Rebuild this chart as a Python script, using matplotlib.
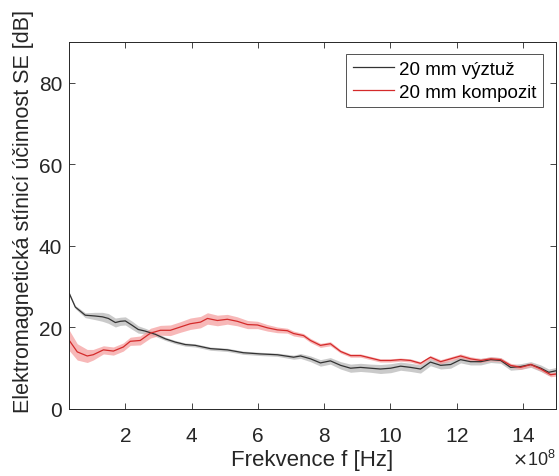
import numpy as np
import matplotlib
matplotlib.use("Agg")
import matplotlib.pyplot as plt
from matplotlib.ticker import ScalarFormatter

plt.rcParams['font.family'] = ['Liberation Sans', 'DejaVu Sans']

# Frequency in units of 1e8 Hz, shielding effectiveness in dB, band half-width in dB
freq_vyztuz = [0.31, 0.49, 0.79, 1.09, 1.31, 1.49, 1.70, 1.85, 2.00, 2.21, 2.39, 2.60,
               2.91, 3.21, 3.51, 3.81, 4.11, 4.57, 5.08, 5.56, 6.08, 6.59, 7.08, 7.29,
               7.59, 7.89, 8.19, 8.50, 8.80, 9.10, 9.40, 9.70, 10.01, 10.31, 10.61,
               10.91, 11.21, 11.52, 11.82, 12.12, 12.42, 12.73, 13.03, 13.33, 13.63,
               13.93, 14.24, 14.54, 14.78, 15.02]
se_vyztuz = [28.3, 25.0, 23.0, 22.8, 22.6, 22.2, 21.2, 21.5, 21.6, 20.5, 19.5, 19.1,
             18.3, 17.2, 16.4, 15.8, 15.6, 14.8, 14.5, 13.8, 13.5, 13.3, 12.7, 13.0,
             12.3, 11.3, 11.8, 10.7, 10.0, 10.2, 10.0, 9.8, 10.0, 10.5, 10.2,
             9.8, 11.5, 10.7, 10.9, 12.1, 11.6, 11.6, 12.1, 11.9, 10.2,
             10.4, 10.9, 10.0, 9.0, 9.4]
band_vyztuz = [0.3, 0.4, 0.6, 0.9, 1.1, 1.2, 1.1, 1.0, 1.0, 1.0, 0.9, 0.7,
               0.5, 0.4, 0.4, 0.4, 0.4, 0.4, 0.4, 0.4, 0.4, 0.4, 0.5, 0.6,
               0.7, 0.8, 0.8, 0.9, 1.0, 1.0, 1.0, 1.1, 1.1, 1.0, 1.0,
               1.0, 0.9, 0.9, 0.9, 0.8, 0.8, 0.8, 0.7, 0.7, 0.7,
               0.7, 0.7, 0.8, 0.8, 0.8]

freq_kompozit = [0.31, 0.55, 0.85, 1.03, 1.34, 1.64, 1.94, 2.15, 2.45, 2.76, 3.06, 3.36,
                 3.66, 3.96, 4.27, 4.48, 4.78, 5.08, 5.38, 5.69, 5.99, 6.29, 6.59, 6.89,
                 7.08, 7.38, 7.59, 7.89, 8.19, 8.50, 8.80, 9.10, 9.40, 9.70, 10.01,
                 10.31, 10.61, 10.91, 11.21, 11.52, 11.82, 12.12, 12.42, 12.73, 13.03,
                 13.33, 13.63, 13.93, 14.24, 14.54, 14.84, 15.02]
se_kompozit = [16.8, 14.0, 13.0, 13.3, 14.5, 14.2, 15.2, 16.6, 16.8, 18.6, 19.3, 19.3,
               20.1, 20.9, 21.3, 22.2, 21.7, 22.0, 21.5, 20.7, 20.6, 19.9, 19.4, 19.2,
               18.5, 18.0, 16.8, 15.6, 16.0, 14.1, 13.1, 13.1, 12.5, 11.9, 11.9,
               12.1, 11.9, 11.2, 12.7, 11.6, 12.3, 13.0, 12.3, 11.9, 12.3,
               12.1, 10.7, 10.2, 10.9, 9.8, 8.4, 8.6]
band_kompozit = [2.5, 2.0, 1.6, 1.3, 1.0, 1.0, 1.0, 1.0, 1.1, 1.2, 1.2, 1.3,
                 1.3, 1.4, 1.4, 1.4, 1.3, 1.2, 1.1, 1.0, 0.9, 0.8, 0.7, 0.6,
                 0.6, 0.5, 0.5, 0.5, 0.5, 0.4, 0.4, 0.4, 0.4, 0.4, 0.4,
                 0.4, 0.4, 0.4, 0.4, 0.5, 0.5, 0.5, 0.5, 0.5, 0.5,
                 0.5, 0.5, 0.5, 0.5, 0.5, 0.5, 0.5]

labels = ['20 mm výztuž', '20 mm kompozit']
line_colors = ['#333333', '#d42a2a']
band_colors = ['#b4b4b4', '#f59a9a']

fig = plt.figure(figsize=(5.59, 4.77), dpi=100)
ax = fig.add_axes([0.1234, 0.1405, 0.8712, 0.7694])

series = [(freq_vyztuz, se_vyztuz, band_vyztuz), (freq_kompozit, se_kompozit, band_kompozit)]
for (f, se, bw), lab, lc, bc in zip(series, labels, line_colors, band_colors):
    f = np.asarray(f) * 1e8
    se = np.asarray(se)
    bw = np.asarray(bw)
    ax.fill_between(f, se - bw, se + bw, color=bc, alpha=0.7, linewidth=0)
    ax.plot(f, se, color=lc, linewidth=0.9, label=lab)

ax.set_xlim(0.3e8, 15e8)
ax.set_ylim(0, 90)
ax.set_xticks(np.arange(2, 15, 2) * 1e8)
ax.set_yticks([0, 20, 40, 60, 80])

fmt = ScalarFormatter(useMathText=True)
fmt.set_powerlimits((8, 8))
ax.xaxis.set_major_formatter(fmt)

ax.tick_params(direction='in', length=4, width=0.6, colors='#262626',
               labelsize=15, top=True, right=True)
ax.tick_params(axis='x', pad=12)
ax.tick_params(axis='y', pad=5)
for sp in ax.spines.values():
    sp.set_color('#262626')
    sp.set_linewidth(0.7)

ax.set_xlabel('Frekvence f [Hz]', fontsize=16, color='#262626', labelpad=3)
ax.set_ylabel('Elektromagnetická stínicí účinnost SE [dB]', fontsize=15.5,
              color='#262626')
ax.yaxis.set_label_coords(-0.072, 0.54)

# Exponent of the x axis, placed at the lower right below the tick labels
fig.canvas.draw()
ax.xaxis.get_offset_text().set_visible(False)
ax.text(1.0, -0.11, fmt.get_offset(), transform=ax.transAxes, ha='right',
        va='top', fontsize=13, color='#262626')

leg = ax.legend(loc='upper right', fontsize=13.5, frameon=True, fancybox=False,
                edgecolor='#262626', handlelength=2.2, borderpad=0.35,
                labelspacing=0.3, handletextpad=0.25, borderaxespad=0,
                bbox_to_anchor=(0.973, 0.967))
leg.get_frame().set_linewidth(0.7)

fig.savefig('out.png', dpi=100)
